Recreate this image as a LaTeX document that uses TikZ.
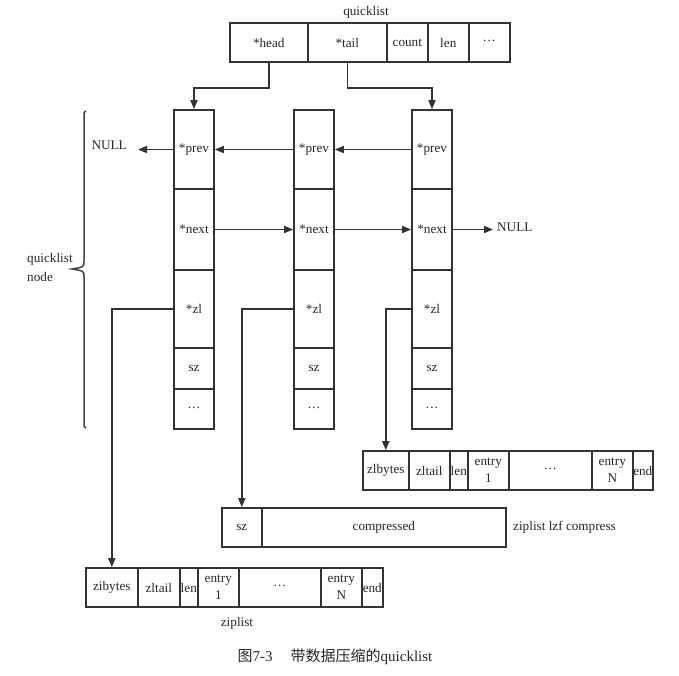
\documentclass[tikz,border=0pt]{standalone}
\usepackage{fontspec}
\setmainfont{Liberation Serif}
\newfontfamily\cjkfont{Noto Sans CJK SC}
\usetikzlibrary{arrows.meta}
\newcommand{\mdots}{\raisebox{.25em}{…}}
\begin{document}
\begin{tikzpicture}[x=1pt,y=-1pt,
  font=\fontsize{13.2}{17}\selectfont,
  cell/.style={draw=black!80, line width=1.6pt, rectangle, inner sep=0pt,
    anchor=west, minimum height=39pt, text=black!85, align=center},
  vcell/.style={draw=black!80, line width=1.6pt, rectangle, inner sep=0pt,
    minimum width=40pt, text=black!85},
  link/.style={draw=black!80, line width=1.6pt, -{Triangle[length=9pt,width=7pt]}},
  bracestyle/.style={draw=black!75, line width=1.5pt},
  lbl/.style={inner sep=0pt, text=black!85}]
\useasboundingbox (0,0) rectangle (679,675);

% quicklist header
\node[lbl] (qlabel) at (366,12) {quicklist};
\node[cell, minimum width=78pt] (head)  at (229,42.5) {*head};
\node[cell, minimum width=79pt] (tail)  at (307,42.5) {*tail};
\node[cell, minimum width=41pt] (count) at (386,42.5) {count};
\node[cell, minimum width=41pt] (len)   at (427,42.5) {len};
\node[cell, minimum width=41pt] (more)  at (468,42.5) {\mdots};

% quicklist nodes
\foreach \n/\x in {a/194,b/314,c/432} {
  \node[vcell, minimum height=79pt] (\n prev) at (\x,149.5) {*prev};
  \node[vcell, minimum height=81pt] (\n next) at (\x,229.5) {*next};
  \node[vcell, minimum height=78pt] (\n zl)   at (\x,309)   {*zl};
  \node[vcell, minimum height=41pt] (\n sz)   at (\x,368.5) {sz};
  \node[vcell, minimum height=40pt] (\n dots) at (\x,409)   {\mdots};
}

% brace spanning the quicklist nodes, and its label
\draw[bracestyle] (86,111) .. controls (84,112) .. (84,116) -- (84,261)
  .. controls (84,267) .. (72,269) .. controls (84,271) .. (84,277)
  -- (84,423) .. controls (84,427) .. (86,428);
\node[lbl, anchor=west, align=left, font=\fontsize{13.2}{19}\selectfont]
  (qnode) at (27,267) {quicklist\\node};

% uncompressed ziplist (right)
\node[cell, minimum width=46pt] (rbytes) at (362,470.5) {zlbytes};
\node[cell, minimum width=41pt] (rtail)  at (408,470.5) {zltail};
\node[cell, minimum width=18pt] (rlen)   at (449,470.5) {len};
\node[cell, minimum width=41pt] (rent1)  at (467,470.5) {entry\\1};
\node[cell, minimum width=83pt] (rdots)  at (508,470.5) {\mdots};
\node[cell, minimum width=41pt] (rentN)  at (591,470.5) {entry\\N};
\node[cell, minimum width=20pt] (rend)   at (632,470.5) {end};

% compressed ziplist
\node[cell, minimum width=40pt]  (csz)   at (221,527.5) {sz};
\node[cell, minimum width=244pt] (ccomp) at (261,527.5) {compressed};
\node[lbl, anchor=west] (clabel) at (513,527.5) {ziplist lzf compress};

% uncompressed ziplist (bottom)
\node[cell, minimum width=52pt] (zbytes) at (85,587.5)  {zibytes};
\node[cell, minimum width=42pt] (ztail)  at (137,587.5) {zltail};
\node[cell, minimum width=18pt] (zlen)   at (179,587.5) {len};
\node[cell, minimum width=41pt] (zent1)  at (197,587.5) {entry\\1};
\node[cell, minimum width=82pt] (zdots)  at (238,587.5) {\mdots};
\node[cell, minimum width=41pt] (zentN)  at (320,587.5) {entry\\N};
\node[cell, minimum width=21pt] (zend)   at (361,587.5) {end};
\node[lbl] (zlabel) at (237,623) {ziplist};

% NULL ends
\node[lbl, anchor=east] (nullL) at (127,145) {NULL};
\node[lbl, anchor=west] (nullR) at (497,227) {NULL};

% links
\draw[link] (head.south) -- ++(0,25) -| (aprev.north);
\draw[link] (tail.south) -- ++(0,25) -| (cprev.north);
\draw[link] (cprev.west) -- (bprev.east);
\draw[link] (bprev.west) -- (aprev.east);
\draw[link] (aprev.west) -- ([xshift=11pt]aprev.west -| nullL.east);
\draw[link] (anext.east) -- (bnext.west);
\draw[link] (bnext.east) -- (cnext.west);
\draw[link] (cnext.east) -- ([xshift=-4pt]cnext.east -| nullR.west);
\draw[link] (azl.west) -| (zbytes.north);
\draw[link] (bzl.west) -| (csz.north);
\draw[link] (czl.west) -| (rbytes.north);

% caption
\node[lbl, font=\fontsize{15}{17}\selectfont] (caption) at (335,657)
  {{\cjkfont 图}7-3\hspace{1.2em}{\cjkfont 带数据压缩的}quicklist};
\end{tikzpicture}
\end{document}
